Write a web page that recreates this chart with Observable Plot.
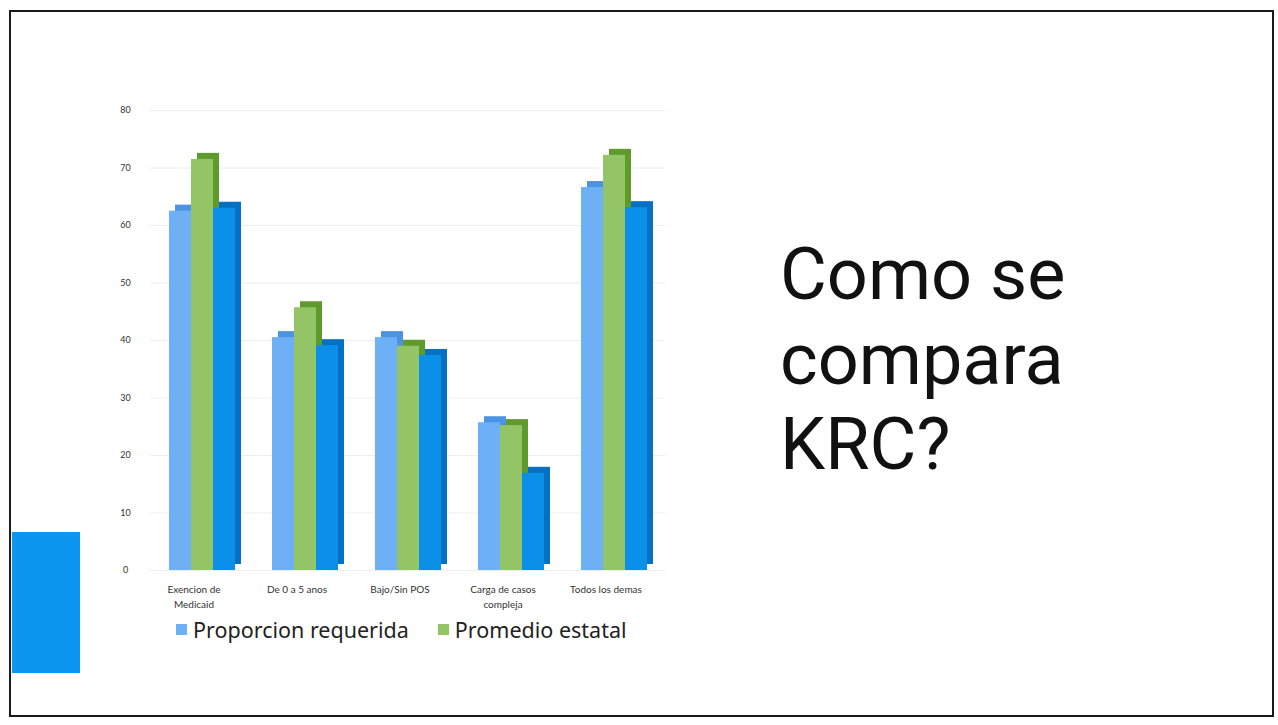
<!DOCTYPE html>
<html>
<head>
<meta charset="utf-8">
<script src="https://cdn.jsdelivr.net/npm/d3@7"></script>
<script src="https://cdn.jsdelivr.net/npm/@observablehq/plot@0.6"></script>
<style>
  html, body { margin: 0; padding: 0; background: #fff; }
  #page { position: relative; width: 1278px; height: 725px; overflow: hidden; background: #fff; }
  #frame { position: absolute; left: 9px; top: 10px; width: 1265px; height: 707px; border: 2px solid #1a1a1a; box-sizing: border-box; }
  #deco { position: absolute; left: 12px; top: 532px; width: 68px; height: 141px; background: #0c96ef; }
  #chart { position: absolute; left: 0; top: 0; }
  #legend { position: absolute; left: 176px; top: 615px; font-family: "Noto Sans", sans-serif; font-size: 21.5px; color: #222; display: flex; align-items: center; white-space: nowrap; }
  #legend .item { display: flex; align-items: center; margin-right: 29px; }
  #legend .sw { width: 11px; height: 11px; margin-right: 6px; }
  #title { position: absolute; left: 780px; top: 232px; font-family: Roboto, sans-serif; font-size: 72px; line-height: 85px; color: #111; font-weight: 400; }
</style>
</head>
<body>
<div id="page">
  <div id="frame"></div>
  <div id="deco"></div>
  <div id="chart"></div>
  <div id="legend"></div>
  <div id="title">Como se<br>compara<br>KRC?</div>
</div>
<script>
// ---- data ----
const categories = ["Exencion de\nMedicaid", "De 0 a 5 anos", "Bajo/Sin POS", "Carga de casos\ncompleja", "Todos los demas"];
const seriesNames = ["Proporcion requerida", "Promedio estatal", "KRC"];
const proporcionRequerida = [62.5, 40.5, 40.5, 25.7, 66.6];
const promedioEstatal = [71.5, 45.7, 39.0, 25.2, 72.2];
const krc = [63.0, 39.1, 37.4, 16.9, 63.1];
const yTicks = [0, 10, 20, 30, 40, 50, 60, 70, 80];
const legendSeries = ["Proporcion requerida", "Promedio estatal"];

// ---- styles ----
const frontColors = ["#6db0f6", "#93c465", "#0b90ea"];
const sideColors = ["#4d93e3", "#5f9a2c", "#0670c2"];

const valuesBySeries = [proporcionRequerida, promedioEstatal, krc];
const data = [];
categories.forEach((c, i) => {
  seriesNames.forEach((s, j) => {
    data.push({cat: c, series: s, value: valuesBySeries[j][i], k: j});
  });
});

const chart = Plot.plot({
  width: 700,
  height: 615,
  marginLeft: 150,
  marginRight: 35,
  marginTop: 110,
  marginBottom: 45,
  style: {fontFamily: "Lato, 'Noto Sans', sans-serif", background: "transparent"},
  y: {domain: [0, 80]},
  fx: {domain: categories, padding: 0},
  x: {domain: seriesNames, paddingInner: 0, paddingOuter: 0.74, axis: null},
  color: {type: "identity"},
  marks: [
    Plot.gridY(yTicks, {stroke: "#e2e2e2", strokeOpacity: 0.6}),
    Plot.axisY(yTicks, {tickSize: 0, tickPadding: 25, textAnchor: "middle", fontSize: 9, fill: "#333", label: null}),
    Plot.axisFx({anchor: "bottom", tickSize: 0, tickPadding: 12, fontSize: 10, lineHeight: 1.5, dx: -8, fill: "#333", label: null}),
    Plot.barY(data, {fx: "cat", x: "series", y: "value", fill: d => sideColors[d.k], dx: 6, dy: -6}),
    Plot.barY(data, {fx: "cat", x: "series", y: "value", fill: d => frontColors[d.k]})
  ]
});
document.getElementById("chart").appendChild(chart);

const legend = document.getElementById("legend");
legendSeries.forEach(name => {
  const j = seriesNames.indexOf(name);
  const item = document.createElement("div");
  item.className = "item";
  const sw = document.createElement("div");
  sw.className = "sw";
  sw.style.background = frontColors[j];
  const t = document.createElement("span");
  t.textContent = name;
  item.appendChild(sw);
  item.appendChild(t);
  legend.appendChild(item);
});
</script>
</body>
</html>
